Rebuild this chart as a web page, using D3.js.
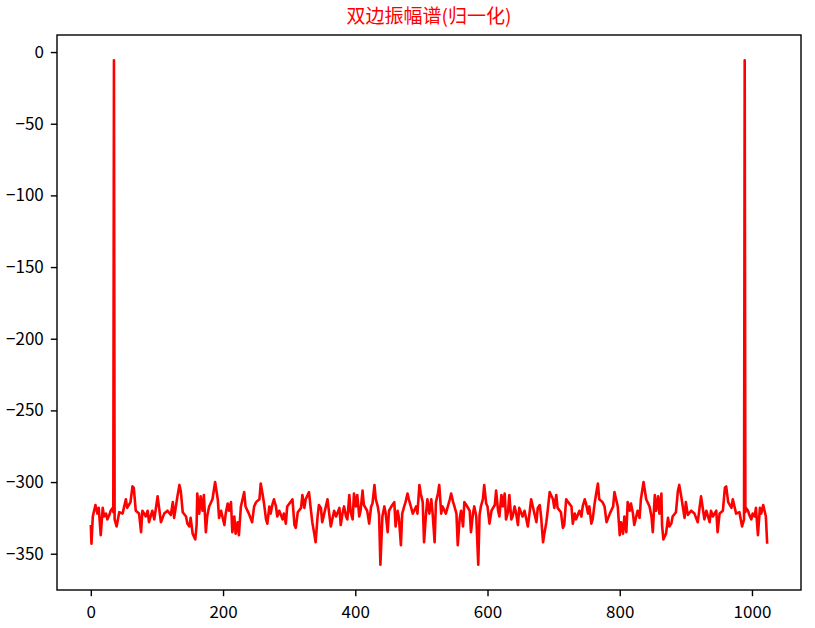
<!DOCTYPE html>
<html>
<head>
<meta charset="utf-8">
<script src="https://cdn.jsdelivr.net/npm/d3@7"></script>
<style>
  body { margin: 0; background: #fff; }
  svg text { font-family: "Noto Sans CJK SC", "DejaVu Sans", sans-serif; }
</style>
</head>
<body>
<svg id="chart" width="815" height="628"></svg>
<script>
// spectrum bins (index) and normalised amplitude (dB)
var bins = [0, 1, 3, 7, 10, 12, 15, 18, 20, 23, 25, 28, 30, 33, 34, 35, 36, 39, 43, 48, 53, 55, 60, 63, 65, 68, 73, 76, 78, 83, 86, 88, 93, 96, 101, 103, 106, 111, 116, 121, 124, 126, 131, 134, 136, 139, 144, 146, 149, 151, 154, 158, 160, 161, 164, 166, 169, 171, 174, 176, 179, 184, 188, 192, 194, 197, 202, 204, 207, 209, 212, 214, 217, 219, 222, 224, 227, 232, 234, 239, 244, 247, 250, 255, 257, 260, 262, 265, 267, 270, 272, 275, 277, 280, 282, 285, 290, 292, 295, 297, 302, 305, 308, 310, 313, 318, 320, 323, 325, 330, 333, 335, 338, 340, 343, 345, 348, 350, 353, 358, 360, 363, 368, 371, 376, 378, 381, 383, 386, 388, 391, 393, 396, 398, 401, 403, 406, 408, 411, 413, 418, 421, 424, 426, 429, 431, 434, 436, 438, 441, 444, 446, 449, 451, 456, 459, 461, 464, 466, 469, 471, 474, 476, 479, 481, 487, 492, 494, 497, 499, 502, 504, 507, 509, 512,
  515, 517, 520, 522, 525, 527, 530, 532, 537, 543, 545, 548, 550, 553, 555, 558, 560, 563, 565, 568, 573, 575, 578, 580, 583, 586, 588, 590, 593, 595, 598, 600, 603, 606, 611, 613, 616, 618, 621, 623, 626, 628, 631, 633, 636, 638, 641, 643, 646, 648, 653, 656, 661, 664, 666, 671, 674, 676, 679, 681, 684, 686, 689, 691, 694, 699, 701, 704, 706, 711, 714, 716, 719, 722, 727, 729, 732, 734, 739, 742, 744, 747, 749, 752, 754, 757, 759, 762, 764, 767, 769, 774, 777, 780, 785, 790, 792, 797, 800, 802, 805, 807, 810, 812, 815, 817, 820, 822, 827, 830, 832, 836, 840, 845, 848, 850, 853, 855, 858, 860, 863, 864, 866, 870, 873, 875, 878, 880, 885, 888, 890, 893, 898, 900, 903, 908, 913, 918, 921, 923, 928, 931, 936, 938, 941, 946, 948, 951, 956, 959, 961, 964, 969, 971, 976, 981, 985, 988, 989, 990, 991, 994, 996, 999, 1001, 1004, 1006, 1009, 1012, 1014, 1017, 1021, 1023];

var amps = [-330, -343, -324, -316, -322, -318, -337, -318, -324, -322, -326, -323, -320, -318, -321, -5.7, -326, -331, -321, -322, -312, -318, -314, -303, -304, -320, -322, -335, -320, -324, -320, -328, -320, -326, -310, -317, -328, -322, -320, -323, -314, -325, -310, -302, -306, -321, -324, -329, -331, -325, -336, -340, -330, -308, -322, -310, -320, -309, -335, -324, -317, -312, -300, -312, -325, -320, -330, -322, -315, -320, -314, -335, -324, -336, -328, -337, -317, -307, -317, -322, -328, -317, -314, -312, -301, -309, -315, -326, -329, -317, -322, -315, -312, -317, -324, -320, -326, -322, -329, -317, -314, -312, -330, -332, -321, -318, -309, -318, -312, -307, -320, -328, -336, -342, -324, -316, -318, -328, -322, -312, -320, -331, -320, -324, -318, -330, -321, -317, -324, -326, -309, -321, -326, -308, -317, -309, -324, -320, -306, -316, -320, -329, -317, -315, -302, -312, -317, -323, -357.7, -324, -317, -322, -335, -320, -316, -314, -331, -320, -325, -344, -322, -317, -314, -308, -312, -322, -317, -322, -302, -308, -314, -342, -322, -312, -322,
  -312, -322, -342, -314, -308, -302, -322, -317, -322, -312, -308, -314, -317, -322, -344, -325, -320, -331, -314, -316, -320, -335, -322, -317, -324, -357.7, -323, -317, -312, -302, -315, -317, -329, -320, -316, -306, -320, -324, -309, -317, -308, -326, -321, -309, -326, -324, -317, -321, -330, -318, -324, -320, -331, -320, -312, -322, -328, -318, -316, -324, -342, -336, -328, -320, -307, -312, -318, -309, -318, -321, -332, -330, -312, -314, -317, -329, -322, -326, -320, -324, -317, -312, -315, -322, -317, -329, -326, -315, -309, -301, -312, -314, -317, -328, -322, -317, -307, -317, -337, -328, -336, -324, -335, -314, -320, -315, -322, -330, -320, -325, -312, -300, -312, -317, -324, -335, -309, -320, -310, -322, -308, -330, -340, -336, -325, -331, -329, -324, -321, -306, -302, -310, -325, -314, -323, -320, -322, -328, -317, -310, -326, -320, -328, -320, -324, -320, -335, -322, -320, -304, -303, -314, -318, -312, -322, -321, -331, -326, -5.7, -321, -318, -320, -323, -326, -322, -324, -318, -337, -318, -322, -316, -324, -343];

var xTicks = [0, 200, 400, 600, 800, 1000];
var yTicks = [0, -50, -100, -150, -200, -250, -300, -350];
var title = "双边振幅谱(归一化)";

var points = bins.map(function (b, i) { return {k: b, v: amps[i]}; });

var svg = d3.select("#chart"),
    margin = {top: 35, right: 14, bottom: 38, left: 57},
    width = 815 - margin.left - margin.right,
    height = 628 - margin.top - margin.bottom,
    g = svg.append("g").attr("transform", "translate(" + margin.left + "," + margin.top + ")");

// matplotlib style 5% padding around the data
var xExt = d3.extent(bins), yExt = d3.extent(amps);
var xPad = (xExt[1] - xExt[0]) * 0.05, yPad = (yExt[1] - yExt[0]) * 0.05;

var x = d3.scaleLinear()
    .domain([xExt[0] - xPad, xExt[1] + xPad])
    .range([0, width]);

var y = d3.scaleLinear()
    .domain([yExt[0] - yPad, yExt[1] + yPad])
    .range([height, 0]);

var line = d3.line()
    .x(function (d) { return x(d.k); })
    .y(function (d) { return y(d.v); });

g.append("path")
    .datum(points)
    .attr("fill", "none")
    .attr("stroke", "#ff0000")
    .attr("stroke-width", 2.6)
    .attr("stroke-linejoin", "round")
    .attr("stroke-linecap", "butt")
    .attr("d", line);

var fmt = function (d) { return d < 0 ? "\u2212" + Math.abs(d) : String(d); };

var xAxis = g.append("g")
    .attr("transform", "translate(0," + height + ")")
    .call(d3.axisBottom(x).tickValues(xTicks).tickSize(6.2).tickPadding(10).tickFormat(fmt));

var yAxis = g.append("g")
    .call(d3.axisLeft(y).tickValues(yTicks).tickSize(6.2).tickPadding(7).tickFormat(fmt));

[xAxis, yAxis].forEach(function (a) {
    a.select(".domain").remove();
    a.selectAll("line").attr("stroke", "#000").attr("stroke-width", 1.4);
    a.selectAll("text").attr("fill", "#000").style("font-size", "17px");
});

// frame
g.append("rect")
    .attr("width", width)
    .attr("height", height)
    .attr("fill", "none")
    .attr("stroke", "#000")
    .attr("stroke-width", 1.4);

svg.append("text")
    .attr("x", margin.left + width / 2)
    .attr("y", 23)
    .attr("text-anchor", "middle")
    .attr("fill", "#ff0000")
    .style("font-size", "19px")
    .text(title);
</script>
</body>
</html>
